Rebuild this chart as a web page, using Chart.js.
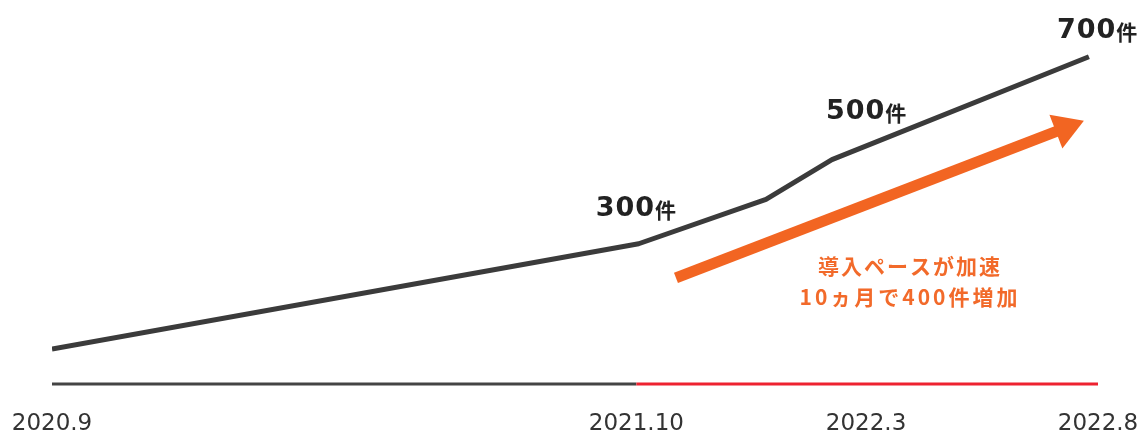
<!DOCTYPE html>
<html>
<head>
<meta charset="utf-8">
<script src="https://cdn.jsdelivr.net/npm/chart.js@4/dist/chart.umd.min.js"></script>
<style>
  html, body { margin: 0; padding: 0; background: #ffffff; }
  #wrap { width: 1146px; height: 437px; position: relative; }
</style>
</head>
<body>
<div id="wrap"><canvas id="growthChart"></canvas></div>
<script>
// months counted from 2020.9
const pointMonths = [0, 12.9, 15.7, 17.15, 22.8];
const pointValues = [75, 300, 395, 480, 700];

const tickMonths = [0, 12.85, 17.9, 23];
const tickLabels = ["2020.9", "2021.10", "2022.3", "2022.8"];

// baseline: dark up to 2021.10, red after
const baseMonths = [0, 12.85, 23];
const baseValues = [0, 0, 0];

const valueLabels = [
  { idx: 1, num: "300", dx: -43, dy: -35 },
  { idx: 3, num: "500", dx: -6, dy: -48 },
  { idx: 4, num: "700", dx: -32, dy: -26 }
];

// arrow annotation (month, value)
const arrowFrom = { x: 13.72, y: 227 };
const arrowTo = { x: 22.69, y: 563 };
const noteLines = ["導入ペースが加速", "10ヵ月で400件増加"];

const lineColor = "#3b3b3b";
const orange = "#f26522";

const overlayPlugin = {
  id: "overlay",
  afterDatasetsDraw(chart) {
    const ctx = chart.ctx;
    const xs = chart.scales.x;
    const ys = chart.scales.y;
    ctx.save();

    // x tick labels
    ctx.fillStyle = "#333333";
    ctx.font = "23px 'DejaVu Sans'";
    ctx.textAlign = "center";
    ctx.textBaseline = "middle";
    tickMonths.forEach((m, i) => {
      ctx.fillText(tickLabels[i], xs.getPixelForValue(m), 424);
    });

    // arrow
    const x1 = xs.getPixelForValue(arrowFrom.x), y1 = ys.getPixelForValue(arrowFrom.y);
    const x2 = xs.getPixelForValue(arrowTo.x), y2 = ys.getPixelForValue(arrowTo.y);
    const len = Math.hypot(x2 - x1, y2 - y1);
    const ux = (x2 - x1) / len, uy = (y2 - y1) / len;
    const headLen = 30, headHalf = 18;
    const bx = x2 - ux * headLen, by = y2 - uy * headLen;
    ctx.strokeStyle = orange;
    ctx.lineWidth = 11;
    ctx.lineCap = "butt";
    ctx.beginPath();
    ctx.moveTo(x1, y1);
    ctx.lineTo(bx + ux * 2, by + uy * 2);
    ctx.stroke();
    ctx.fillStyle = orange;
    ctx.beginPath();
    ctx.moveTo(x2, y2);
    ctx.lineTo(bx - uy * headHalf, by + ux * headHalf);
    ctx.lineTo(bx + uy * headHalf, by - ux * headHalf);
    ctx.closePath();
    ctx.fill();

    // note text
    ctx.fillStyle = "#f26a2a";
    ctx.font = "bold 21px 'Noto Sans CJK JP'";
    ctx.textAlign = "center";
    ctx.letterSpacing = "2px";
    ctx.fillText(noteLines[0], 910, 266);
    ctx.letterSpacing = "3px";
    ctx.fillText(noteLines[1], 910, 297);
    ctx.letterSpacing = "0px";

    // value labels
    ctx.fillStyle = "#222222";
    ctx.textAlign = "left";
    valueLabels.forEach(l => {
      const px = xs.getPixelForValue(pointMonths[l.idx]) + l.dx;
      const py = ys.getPixelForValue(pointValues[l.idx]) + l.dy;
      ctx.font = "bold 27px 'DejaVu Sans'";
      ctx.letterSpacing = "1px";
      const w = ctx.measureText(l.num).width;
      ctx.fillText(l.num, px, py);
      ctx.letterSpacing = "0px";
      ctx.font = "bold 21px 'Noto Sans CJK JP'";
      ctx.fillText("件", px + w, py + 1);
    });

    ctx.restore();
  }
};

new Chart(document.getElementById("growthChart"), {
  type: "line",
  data: {
    datasets: [
      {
        data: pointMonths.map((m, i) => ({ x: m, y: pointValues[i] })),
        borderColor: lineColor,
        borderWidth: 5,
        borderCapStyle: "butt",
        borderJoinStyle: "round",
        pointRadius: 0,
        tension: 0
      },
      {
        data: baseMonths.map((m, i) => ({ x: m, y: baseValues[i] })),
        borderWidth: 3,
        borderCapStyle: "butt",
        pointRadius: 0,
        clip: false,
        segment: {
          borderColor: c => c.p0DataIndex === 0 ? "#444444" : "#ee2230"
        }
      }
    ]
  },
  options: {
    responsive: true,
    maintainAspectRatio: false,
    animation: false,
    layout: { padding: { left: 52, right: 48, top: 10, bottom: 53 } },
    plugins: { legend: { display: false }, tooltip: { enabled: false } },
    scales: {
      x: { type: "linear", min: 0, max: 23, display: false },
      y: { min: 0, max: 800, display: false }
    }
  },
  plugins: [overlayPlugin]
});
</script>
</body>
</html>
